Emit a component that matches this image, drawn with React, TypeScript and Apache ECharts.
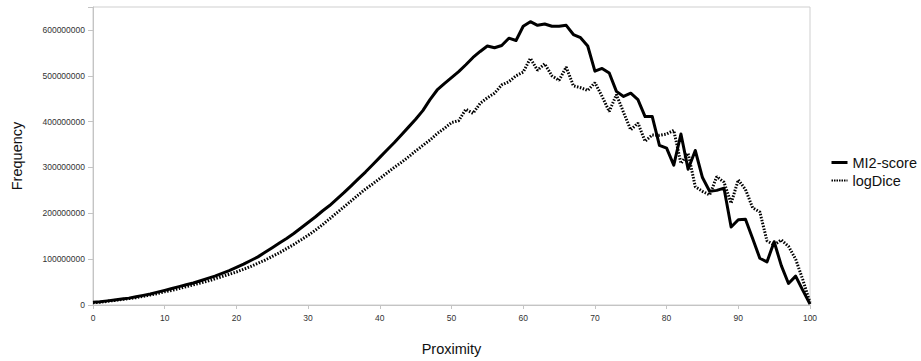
import React, { useEffect, useRef } from "react";
import * as echarts from "echarts";

// Proximity (x axis)
const proximity = [
  0, 1, 2, 3, 4, 5, 6, 7, 8, 9, 10, 11, 12, 13, 14, 15, 16, 17, 18, 19, 20,
  21, 22, 23, 24, 25, 26, 27, 28, 29, 30, 31, 32, 33, 34, 35, 36, 37, 38, 39, 40,
  41, 42, 43, 44, 45, 46, 47, 48, 49, 50, 51, 52, 53, 54, 55, 56, 57, 58, 59, 60,
  61, 62, 63, 64, 65, 66, 67, 68, 69, 70, 71, 72, 73, 74, 75, 76, 77, 78, 79, 80,
  81, 82, 83, 84, 85, 86, 87, 88, 89, 90, 91, 92, 93, 94, 95, 96, 97, 98, 99, 100,
];

// Frequencies in millions
const mi2ScoreM = [
  6, 7, 9, 11, 13, 15, 18, 21, 24, 28, 32, 36, 40, 44, 48, 53, 58, 63, 69, 75, 82,
  89, 97, 105, 115, 125, 135, 145, 156, 168, 180, 192, 205, 217, 231, 245, 260, 275, 290, 306, 322,
  338, 354, 371, 388, 405, 424, 448, 469, 483, 496, 509, 524, 540, 553, 565, 561, 566, 582, 577, 608,
  618, 610, 613, 608, 608, 610, 590, 583, 565, 510, 516, 506, 466, 455, 462, 448, 411, 411, 348, 342,
  305, 373, 296, 337, 278, 248, 250, 255, 170, 186, 187, 145, 102, 94, 138, 86, 47, 63, 32, 2,
];

const logDiceM = [
  5, 6, 8, 10, 12, 14, 16, 19, 22, 25, 29, 32, 36, 40, 44, 48, 52, 57, 62, 67, 72,
  78, 84, 91, 98, 106, 114, 123, 132, 142, 152, 163, 175, 188, 201, 214, 227, 240, 253, 264, 276,
  288, 300, 311, 323, 336, 348, 360, 374, 385, 398, 402, 427, 418, 440, 452, 462, 480, 487, 500, 508,
  538, 512, 526, 500, 490, 519, 478, 474, 468, 485, 455, 422, 459, 420, 382, 397, 357, 371, 370, 373,
  381, 309, 331, 258, 248, 240, 280, 268, 222, 273, 252, 212, 203, 140, 131, 142, 128, 100, 55, 5,
];

const seriesNames = ["MI2-score", "logDice"];
const yTickValues = [0, 100000000, 200000000, 300000000, 400000000, 500000000, 600000000];
const MILLION = 1000000;

const FONT = "'Liberation Sans', Arial, sans-serif";

export default function App() {
  const ref = useRef<HTMLDivElement>(null);

  useEffect(() => {
    if (!ref.current) return;
    const chart = echarts.init(ref.current, undefined, { renderer: "svg" });
    const mi2Data = proximity.map((x, i) => [x, mi2ScoreM[i] * MILLION]);
    const logData = proximity.map((x, i) => [x, logDiceM[i] * MILLION]);
    chart.setOption({
      animation: false,
      backgroundColor: "#ffffff",
      textStyle: { fontFamily: FONT },
      grid: {
        left: 93,
        right: 111,
        top: 7,
        bottom: 56,
        show: true,
        borderColor: "#cfcfcf",
        borderWidth: 1,
        backgroundColor: "transparent",
      },
      legend: {
        orient: "vertical",
        left: 830,
        top: 155,
        padding: 0,
        itemWidth: 16,
        itemHeight: 10,
        itemGap: 3,
        itemStyle: { opacity: 0, borderWidth: 0 },
        textStyle: { fontSize: 14.5, color: "#111", fontFamily: FONT },
        data: [
          {
            name: seriesNames[0],
            itemStyle: { opacity: 0, borderWidth: 0 },
            lineStyle: { width: 3, type: "solid", color: "#000" },
          },
          {
            name: seriesNames[1],
            itemStyle: { opacity: 0, borderWidth: 0 },
            lineStyle: { width: 2, type: [1.5, 1], color: "#000" },
          },
        ],
      },
      xAxis: {
        type: "value",
        min: 0,
        max: 100,
        interval: 10,
        name: "Proximity",
        nameLocation: "middle",
        nameGap: 36,
        nameTextStyle: { fontSize: 14.5, color: "#111", fontFamily: FONT },
        axisLine: { show: true, lineStyle: { color: "#c4c4c4", width: 1 } },
        axisTick: { show: true, length: 4, lineStyle: { color: "#c4c4c4" } },
        axisLabel: { fontSize: 8.5, color: "#333", margin: 8, fontFamily: FONT },
        splitLine: { show: false },
      },
      yAxis: {
        type: "value",
        min: 0,
        max: 650000000,
        interval: 100000000,
        name: "Frequency",
        nameLocation: "middle",
        nameGap: 69,
        nameRotate: 90,
        nameTextStyle: { fontSize: 14.5, color: "#111", fontFamily: FONT },
        axisLine: { show: true, lineStyle: { color: "#c4c4c4", width: 1 } },
        axisTick: { show: true, length: 5, lineStyle: { color: "#c4c4c4" } },
        axisLabel: {
          fontSize: 8.5,
          color: "#333",
          margin: 8,
          fontFamily: FONT,
          formatter: (v: number) => (yTickValues.indexOf(v) >= 0 ? String(v) : ""),
        },
        splitLine: { show: false },
      },
      series: [
        {
          name: seriesNames[0],
          type: "line",
          data: mi2Data,
          symbol: "none",
          showSymbol: false,
          lineStyle: { color: "#000", width: 3, type: "solid", join: "round" },
          itemStyle: { color: "#000" },
          z: 3,
        },
        {
          name: seriesNames[1],
          type: "line",
          data: logData,
          symbol: "none",
          showSymbol: false,
          lineStyle: { color: "#000", width: 3, type: [1.5, 1.5] },
          itemStyle: { color: "#000" },
          z: 2,
        },
      ],
    });
    return () => chart.dispose();
  }, []);

  return (
    <div
      ref={ref}
      style={{ position: "fixed", left: 0, top: 0, width: 921, height: 361, background: "#fff" }}
    />
  );
}
